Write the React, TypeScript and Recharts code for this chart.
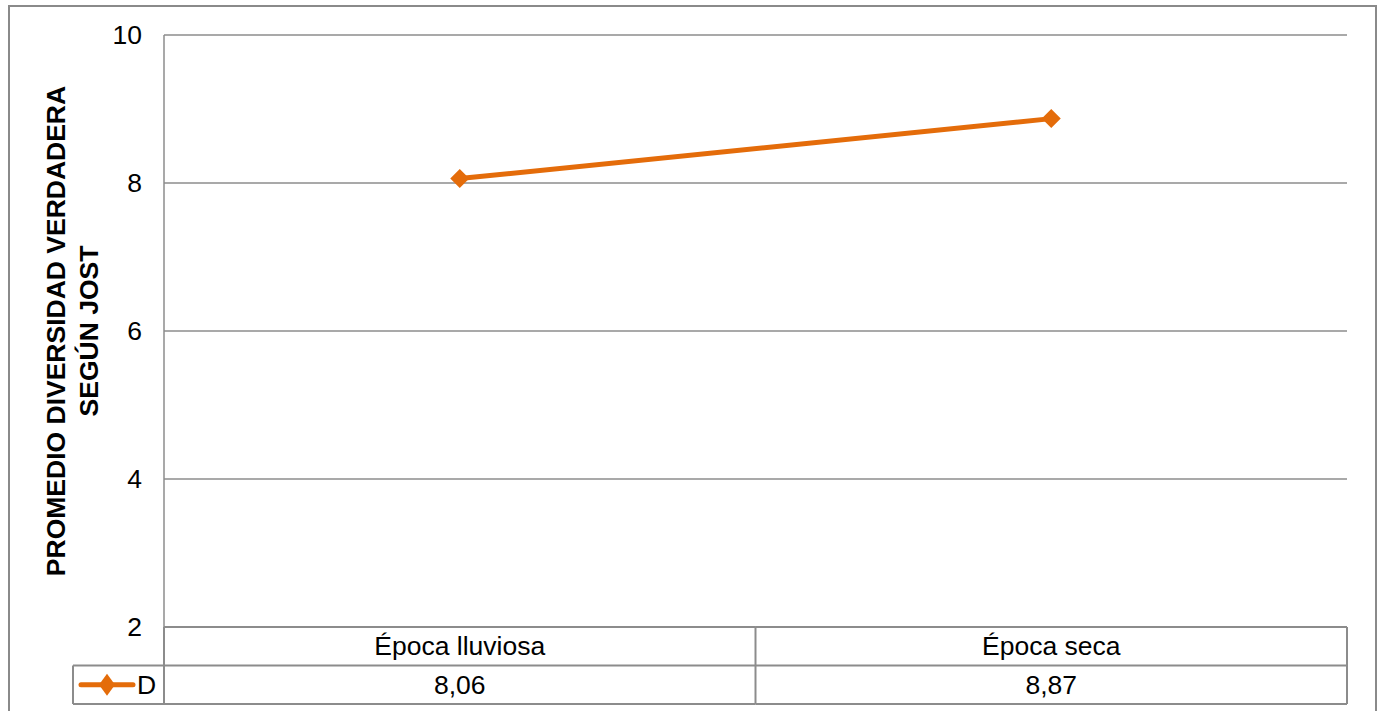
import React from 'react';
import { LineChart, Line, XAxis, YAxis, CartesianGrid } from 'recharts';

const CATEGORIES = ['Época lluviosa', 'Época seca'];
const D_VALUES = [8.06, 8.87];
const Y_TICKS = [2, 4, 6, 8, 10];
const SERIES_NAME = 'D';

const ORANGE = '#E46C0A';
const GRID = '#8c8c8c';
const FONT = '"Liberation Sans", Arial, sans-serif';

const data = CATEGORIES.map((category, i) => ({ category, D: D_VALUES[i] }));

const formatValue = (v: number) => v.toFixed(2).replace('.', ',');

// diamond marker used both on the line and in the table key
function Diamond({ cx, cy, w, h }: { cx: number; cy: number; w: number; h: number }) {
  return (
    <polygon
      points={`${cx},${cy - h / 2} ${cx + w / 2},${cy} ${cx},${cy + h / 2} ${cx - w / 2},${cy}`}
      fill={ORANGE}
    />
  );
}

const ROW_H = 38.5;
const KEY_W = 91;

// each x tick draws its own column of the data table underneath the plot
function TableTick(props: any) {
  const { x, y, width, visibleTicksCount, index, payload } = props;
  const cell = width / visibleTicksCount;
  const left = x - cell / 2;
  const right = x + cell / 2;
  const lineProps = { stroke: GRID, strokeWidth: 2 };
  return (
    <g>
      <line x1={left} y1={y} x2={right} y2={y} {...lineProps} />
      <line x1={left} y1={y + ROW_H} x2={right} y2={y + ROW_H} {...lineProps} />
      <line x1={left} y1={y + 2 * ROW_H} x2={right} y2={y + 2 * ROW_H} {...lineProps} />
      <line x1={right} y1={y} x2={right} y2={y + 2 * ROW_H} {...lineProps} />
      <text x={x} y={y + ROW_H / 2} textAnchor="middle" dominantBaseline="central" fontSize={26.5} fontFamily={FONT} fill="#000">
        {payload.value}
      </text>
      <text x={x} y={y + ROW_H * 1.5} textAnchor="middle" dominantBaseline="central" fontSize={26.5} fontFamily={FONT} fill="#000">
        {formatValue(D_VALUES[index])}
      </text>
      {index === 0 && (
        <g>
          <line x1={left} y1={y} x2={left} y2={y + 2 * ROW_H} {...lineProps} />
          <line x1={left - KEY_W} y1={y + ROW_H} x2={left} y2={y + ROW_H} {...lineProps} />
          <line x1={left - KEY_W} y1={y + 2 * ROW_H} x2={left} y2={y + 2 * ROW_H} {...lineProps} />
          <line x1={left - KEY_W} y1={y + ROW_H} x2={left - KEY_W} y2={y + 2 * ROW_H} {...lineProps} />
          <line
            x1={left - KEY_W + 8}
            y1={y + ROW_H * 1.5}
            x2={left - KEY_W + 60}
            y2={y + ROW_H * 1.5}
            stroke={ORANGE}
            strokeWidth={5}
            strokeLinecap="round"
          />
          <Diamond cx={left - KEY_W + 34} cy={y + ROW_H * 1.5} w={16} h={22} />
          <text x={left - KEY_W + 64} y={y + ROW_H * 1.5} dominantBaseline="central" fontSize={26.5} fontFamily={FONT} fill="#000">
            {SERIES_NAME}
          </text>
        </g>
      )}
    </g>
  );
}

function YTitle(props: any) {
  const { viewBox } = props;
  const cy = viewBox.y + viewBox.height / 2;
  const bx = 65;
  return (
    <text
      x={bx}
      y={cy}
      transform={`rotate(-90, ${bx}, ${cy})`}
      textAnchor="middle"
      fontSize={26.5}
      fontWeight="bold"
      fontFamily={FONT}
      fill="#000"
    >
      <tspan x={bx}>PROMEDIO DIVERSIDAD VERDADERA</tspan>
      <tspan x={bx} dy={33}>SEGÚN JOST</tspan>
    </text>
  );
}

export default function App() {
  return (
    <div
      style={{
        position: 'fixed',
        left: 0,
        top: 0,
        width: 1379,
        height: 711,
        overflow: 'hidden',
        background: '#fff',
      }}
    >
      <div
        style={{
          position: 'absolute',
          left: 8,
          top: 5,
          width: 1365,
          height: 730,
          border: '2px solid #8a8a8a',
        }}
      />
      <div style={{ position: 'absolute', left: 0, top: 0 }}>
        <LineChart
          width={1379}
          height={711}
          data={data}
          margin={{ top: 35, right: 32, bottom: 7, left: 0 }}
        >
          <CartesianGrid vertical={false} stroke={GRID} strokeWidth={1.5} />
          <XAxis
            dataKey="category"
            scale="band"
            height={77}
            axisLine={false}
            tickLine={false}
            tickSize={0}
            tickMargin={0}
            interval={0}
            tick={<TableTick />}
          />
          <YAxis
            width={164}
            domain={[2, 10]}
            ticks={Y_TICKS}
            axisLine={{ stroke: GRID, strokeWidth: 1.5 }}
            tickLine={false}
            tickSize={0}
            tickMargin={22}
            tick={{ fontSize: 26.5, fontFamily: FONT, fill: '#000' }}
            label={<YTitle />}
          />
          <Line
            dataKey="D"
            name={SERIES_NAME}
            stroke={ORANGE}
            strokeWidth={5}
            isAnimationActive={false}
            dot={(p: any) => <Diamond key={p.index} cx={p.cx} cy={p.cy} w={19} h={19} />}
            activeDot={false}
          />
        </LineChart>
      </div>
    </div>
  );
}
